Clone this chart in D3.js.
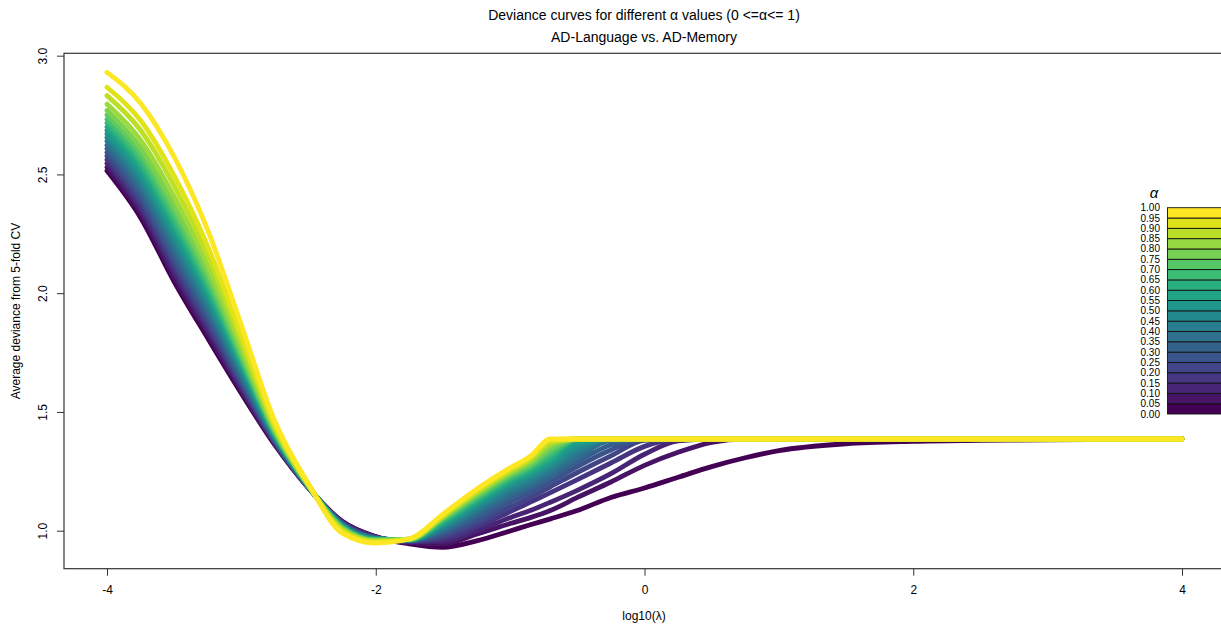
<!DOCTYPE html>
<html>
<head>
<meta charset="utf-8">
<script src="https://cdn.jsdelivr.net/npm/d3@7"></script>
<style>
  body { margin: 0; background: #fff; }
  svg text { font-family: "Liberation Sans", Arial, sans-serif; fill: #000; }
</style>
</head>
<body>
<svg id="chart" width="1221" height="627"></svg>
<script>
// log10(lambda) grid the deviance was read at
var logLambda = [-4, -3.75, -3.5, -3.25, -3, -2.75, -2.5, -2.25, -2, -1.75, -1.5, -1.25, -1, -0.85, -0.7, -0.5, -0.25, 0, 0.25, 0.5, 0.75, 1, 1.5, 2, 2.5, 3, 4];

var alphaLevels = [0, 0.05, 0.1, 0.15, 0.2, 0.25, 0.3, 0.35, 0.4, 0.45, 0.5, 0.55, 0.6, 0.65, 0.7, 0.75, 0.8, 0.85, 0.9, 0.95, 1];

// average deviance from 5-fold CV, one array per alpha
var dev000 = [2.515, 2.318, 2.048, 1.810, 1.578, 1.360, 1.179, 1.040, 0.975, 0.945, 0.930, 0.957, 0.999, 1.025, 1.050, 1.085, 1.140, 1.180, 1.225, 1.270, 1.307, 1.337, 1.366, 1.376, 1.380, 1.383, 1.385];
var dev005 = [2.530, 2.335, 2.067, 1.826, 1.588, 1.364, 1.180, 1.038, 0.974, 0.950, 0.945, 0.985, 1.030, 1.055, 1.085, 1.140, 1.205, 1.275, 1.330, 1.372, 1.386, 1.386, 1.386, 1.386, 1.386, 1.386, 1.386];
var dev010 = [2.546, 2.353, 2.087, 1.844, 1.600, 1.368, 1.180, 1.036, 0.973, 0.953, 0.955, 1.000, 1.055, 1.085, 1.120, 1.170, 1.240, 1.322, 1.378, 1.386, 1.386, 1.386, 1.386, 1.386, 1.386, 1.386, 1.386];
var dev015 = [2.561, 2.370, 2.106, 1.861, 1.610, 1.371, 1.181, 1.034, 0.972, 0.955, 0.965, 1.015, 1.080, 1.120, 1.160, 1.215, 1.285, 1.355, 1.386, 1.386, 1.386, 1.386, 1.386, 1.386, 1.386, 1.386, 1.386];
var dev020 = [2.577, 2.388, 2.126, 1.878, 1.621, 1.375, 1.182, 1.033, 0.971, 0.957, 0.975, 1.030, 1.100, 1.140, 1.185, 1.245, 1.315, 1.380, 1.386, 1.386, 1.386, 1.386, 1.386, 1.386, 1.386, 1.386, 1.386];
var dev025 = [2.592, 2.406, 2.145, 1.895, 1.631, 1.379, 1.182, 1.031, 0.970, 0.958, 0.985, 1.045, 1.120, 1.160, 1.205, 1.270, 1.340, 1.386, 1.386, 1.386, 1.386, 1.386, 1.386, 1.386, 1.386, 1.386, 1.386];
var dev030 = [2.608, 2.424, 2.165, 1.912, 1.642, 1.382, 1.183, 1.029, 0.969, 0.959, 0.993, 1.060, 1.137, 1.177, 1.222, 1.290, 1.362, 1.386, 1.386, 1.386, 1.386, 1.386, 1.386, 1.386, 1.386, 1.386, 1.386];
var dev035 = [2.623, 2.441, 2.184, 1.928, 1.653, 1.386, 1.184, 1.027, 0.968, 0.960, 1.000, 1.073, 1.152, 1.192, 1.238, 1.308, 1.380, 1.386, 1.386, 1.386, 1.386, 1.386, 1.386, 1.386, 1.386, 1.386, 1.386];
var dev040 = [2.639, 2.460, 2.205, 1.946, 1.664, 1.390, 1.184, 1.025, 0.967, 0.960, 1.008, 1.085, 1.166, 1.206, 1.253, 1.325, 1.386, 1.386, 1.386, 1.386, 1.386, 1.386, 1.386, 1.386, 1.386, 1.386, 1.386];
var dev045 = [2.654, 2.477, 2.224, 1.962, 1.674, 1.394, 1.185, 1.023, 0.966, 0.961, 1.015, 1.095, 1.178, 1.218, 1.266, 1.340, 1.386, 1.386, 1.386, 1.386, 1.386, 1.386, 1.386, 1.386, 1.386, 1.386, 1.386];
var dev050 = [2.670, 2.496, 2.244, 1.980, 1.685, 1.397, 1.186, 1.021, 0.965, 0.961, 1.022, 1.105, 1.190, 1.230, 1.278, 1.355, 1.386, 1.386, 1.386, 1.386, 1.386, 1.386, 1.386, 1.386, 1.386, 1.386, 1.386];
var dev055 = [2.685, 2.514, 2.263, 1.997, 1.696, 1.401, 1.186, 1.019, 0.964, 0.962, 1.028, 1.114, 1.200, 1.240, 1.290, 1.368, 1.386, 1.386, 1.386, 1.386, 1.386, 1.386, 1.386, 1.386, 1.386, 1.386, 1.386];
var dev060 = [2.700, 2.532, 2.282, 2.013, 1.706, 1.405, 1.187, 1.018, 0.963, 0.962, 1.034, 1.122, 1.209, 1.250, 1.302, 1.380, 1.386, 1.386, 1.386, 1.386, 1.386, 1.386, 1.386, 1.386, 1.386, 1.386, 1.386];
var dev065 = [2.716, 2.550, 2.303, 2.030, 1.717, 1.408, 1.188, 1.016, 0.962, 0.963, 1.040, 1.130, 1.217, 1.259, 1.314, 1.386, 1.386, 1.386, 1.386, 1.386, 1.386, 1.386, 1.386, 1.386, 1.386, 1.386, 1.386];
var dev070 = [2.731, 2.568, 2.322, 2.047, 1.727, 1.412, 1.188, 1.014, 0.961, 0.963, 1.045, 1.137, 1.225, 1.268, 1.326, 1.386, 1.386, 1.386, 1.386, 1.386, 1.386, 1.386, 1.386, 1.386, 1.386, 1.386, 1.386];
var dev075 = [2.750, 2.589, 2.346, 2.068, 1.740, 1.417, 1.189, 1.012, 0.960, 0.964, 1.050, 1.144, 1.232, 1.276, 1.338, 1.386, 1.386, 1.386, 1.386, 1.386, 1.386, 1.386, 1.386, 1.386, 1.386, 1.386, 1.386];
var dev080 = [2.769, 2.611, 2.370, 2.088, 1.753, 1.421, 1.190, 1.009, 0.959, 0.964, 1.054, 1.151, 1.239, 1.284, 1.350, 1.386, 1.386, 1.386, 1.386, 1.386, 1.386, 1.386, 1.386, 1.386, 1.386, 1.386, 1.386];
var dev085 = [2.796, 2.644, 2.405, 2.118, 1.773, 1.428, 1.191, 1.006, 0.957, 0.964, 1.058, 1.157, 1.245, 1.293, 1.362, 1.386, 1.386, 1.386, 1.386, 1.386, 1.386, 1.386, 1.386, 1.386, 1.386, 1.386, 1.386];
var dev090 = [2.832, 2.686, 2.451, 2.158, 1.798, 1.437, 1.193, 1.002, 0.954, 0.965, 1.062, 1.163, 1.252, 1.301, 1.372, 1.386, 1.386, 1.386, 1.386, 1.386, 1.386, 1.386, 1.386, 1.386, 1.386, 1.386, 1.386];
var dev095 = [2.867, 2.727, 2.494, 2.196, 1.822, 1.445, 1.194, 0.998, 0.952, 0.965, 1.066, 1.169, 1.259, 1.308, 1.380, 1.386, 1.386, 1.386, 1.386, 1.386, 1.386, 1.386, 1.386, 1.386, 1.386, 1.386, 1.386];
var dev100 = [2.930, 2.800, 2.574, 2.265, 1.865, 1.460, 1.197, 0.990, 0.948, 0.965, 1.070, 1.175, 1.265, 1.314, 1.386, 1.386, 1.386, 1.386, 1.386, 1.386, 1.386, 1.386, 1.386, 1.386, 1.386, 1.386, 1.386];

var deviance = [dev000, dev005, dev010, dev015, dev020, dev025, dev030, dev035, dev040, dev045, dev050,
                dev055, dev060, dev065, dev070, dev075, dev080, dev085, dev090, dev095, dev100];

var xTicks = [-4, -2, 0, 2, 4];
var yTicks = [1.0, 1.5, 2.0, 2.5, 3.0];
var legendTicks = [0, 0.05, 0.1, 0.15, 0.2, 0.25, 0.3, 0.35, 0.4, 0.45, 0.5, 0.55, 0.6, 0.65, 0.7, 0.75, 0.8, 0.85, 0.9, 0.95, 1];

var svg = d3.select("#chart");

// plot region (R style, 4% padding around the data range)
var x = d3.scaleLinear().domain([-4.32, 4.32]).range([64, 1225]);
var y = d3.scaleLinear().domain([0.84, 3.01]).range([568.7, 53.3]);

var line = d3.line()
  .x(function(d) { return x(d[0]); })
  .y(function(d) { return y(d[1]); })
  .curve(d3.curveMonotoneX);

// curves, alpha = 0 first so yellow ends up on top
svg.append("g").selectAll("path")
  .data(deviance)
  .enter().append("path")
  .attr("d", function(vals) {
    return line(vals.map(function(v, i) { return [logLambda[i], v]; }));
  })
  .attr("fill", "none")
  .attr("stroke", function(d, i) { return d3.interpolateViridis(alphaLevels[i]); })
  .attr("stroke-width", 4.8)
  .attr("stroke-linecap", "round")
  .attr("stroke-linejoin", "round");

// box
svg.append("rect")
  .attr("x", x.range()[0]).attr("y", y.range()[1])
  .attr("width", x.range()[1] - x.range()[0])
  .attr("height", y.range()[0] - y.range()[1])
  .attr("fill", "none").attr("stroke", "#333").attr("stroke-width", 1.2);

// x axis
var gx = svg.append("g")
  .attr("transform", "translate(0," + y.range()[0] + ")")
  .call(d3.axisBottom(x).tickValues(xTicks).tickSize(7).tickPadding(10)
    .tickFormat(function(d) { return String(d); }));
gx.select(".domain").remove();
gx.selectAll("line").attr("stroke", "#333");
gx.selectAll("text").attr("font-size", 12).attr("font-family", "Liberation Sans, Arial").attr("fill", "#222");

// y axis, labels turned like R's las = 0
var gy = svg.append("g")
  .attr("transform", "translate(" + x.range()[0] + ",0)")
  .call(d3.axisLeft(y).tickValues(yTicks).tickSize(7)
    .tickFormat(d3.format(".1f")));
gy.select(".domain").remove();
gy.selectAll("line").attr("stroke", "#333");
gy.selectAll("text")
  .attr("font-size", 12).attr("font-family", "Liberation Sans, Arial").attr("fill", "#222")
  .attr("transform", "rotate(-90)")
  .attr("x", 0).attr("y", -17).attr("dy", 0)
  .attr("text-anchor", "middle");

// titles
svg.append("text").attr("x", 644).attr("y", 20).attr("text-anchor", "middle")
  .attr("font-size", 14).text("Deviance curves for different \u03b1 values (0 <=\u03b1<= 1)");
svg.append("text").attr("x", 644).attr("y", 42).attr("text-anchor", "middle")
  .attr("font-size", 14).text("AD-Language vs. AD-Memory");
svg.append("text").attr("x", 644).attr("y", 620).attr("text-anchor", "middle")
  .attr("font-size", 12).text("log10(\u03bb)");
svg.append("text").attr("transform", "translate(20,311) rotate(-90)").attr("text-anchor", "middle")
  .attr("font-size", 12).text("Average deviance from 5-fold CV");

// colour legend
var ly = d3.scaleLinear().domain([0, 1]).range([414, 207.7]);
var legend = svg.append("g");
legend.selectAll("rect")
  .data(d3.pairs(legendTicks))
  .enter().append("rect")
  .attr("x", 1167.5)
  .attr("y", function(d) { return ly(d[1]); })
  .attr("width", 70)
  .attr("height", function(d) { return ly(d[0]) - ly(d[1]); })
  .attr("fill", function(d, i) { return d3.interpolateViridis(i / 19); })
  .attr("stroke", "#111").attr("stroke-width", 0.9);
legend.selectAll("text.lab")
  .data(legendTicks)
  .enter().append("text")
  .attr("class", "lab")
  .attr("x", 1160)
  .attr("y", function(d) { return ly(d); })
  .attr("dy", "0.35em")
  .attr("text-anchor", "end")
  .attr("font-size", 10)
  .attr("fill", "#222")
  .text(function(d) { return d3.format(".2f")(d); });
legend.append("text").attr("x", 1154).attr("y", 198).attr("text-anchor", "middle")
  .attr("font-size", 15).attr("font-family", "DejaVu Serif, serif").attr("font-style", "italic")
  .text("\u03b1");
</script>
</body>
</html>
